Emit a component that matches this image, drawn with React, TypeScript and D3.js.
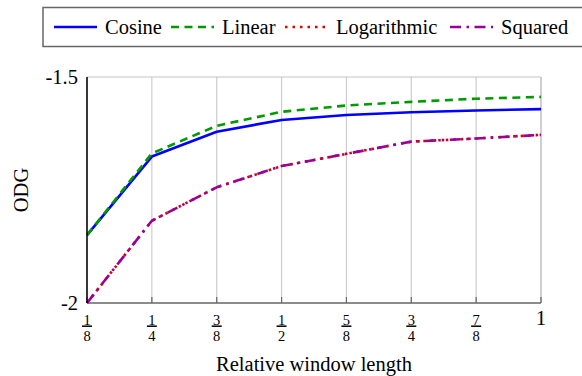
import React from "react";
import * as d3 from "d3";

// Relative window lengths (x positions) and their fractional tick labels
const windowLengths = [1 / 8, 1 / 4, 3 / 8, 1 / 2, 5 / 8, 3 / 4, 7 / 8, 1];
const tickNumerators = ["1", "1", "3", "1", "5", "3", "7", ""];
const tickDenominators = ["8", "4", "8", "2", "8", "4", "8", ""];
const tickWholes = ["", "", "", "", "", "", "", "1"];

// ODG per window shape
const cosine = [-1.85, -1.676, -1.621, -1.595, -1.584, -1.578, -1.574, -1.571];
const linear = [-1.85, -1.669, -1.608, -1.577, -1.563, -1.555, -1.548, -1.544];
const logarithmic = [-2.0, -1.818, -1.744, -1.697, -1.67, -1.643, -1.636, -1.628];
const squared = [-2.0, -1.818, -1.744, -1.697, -1.67, -1.643, -1.636, -1.628];

const yTicks = [-2, -1.5];
const yTickLabels = ["-2", "-1.5"];

const seriesNames = ["Cosine", "Linear", "Logarithmic", "Squared"];
const seriesData = [cosine, linear, logarithmic, squared];
const seriesColors = ["#0000ff", "#009900", "#dd0000", "#990099"];
const seriesDashes = ["none", "8 5.5", "2.5 5", "11 5.5 2.5 5.5"];

const FONT = '"Liberation Serif", "Times New Roman", Times, serif';
const txt = { fontFamily: FONT };

export default function App() {
  const W = 582;
  const H = 376;
  const left = 87;
  const right = 541;
  const top = 77;
  const bottom = 303;

  const x = d3.scaleLinear().domain([1 / 8, 1]).range([left, right]);
  const y = d3.scaleLinear().domain([-2, -1.5]).range([bottom, top]);

  const line = d3
    .line<number>()
    .x((_, i) => x(windowLengths[i]))
    .y((d) => y(d));

  // Legend layout: sample line, then label, entries placed one after another
  const legendY = 27;
  const sampleW = 43;
  const legendStarts = [54, 171, 285, 450];
  const legendTextX = legendStarts.map((s) => s + sampleW + 8);

  return (
    <svg
      width={W}
      height={H}
      style={{ position: "absolute", left: 0, top: 0, background: "#fff", fontFamily: FONT }}
    >
      <rect x={0} y={0} width={W} height={H} fill="#fff" />

      {/* vertical grid */}
      {windowLengths.map((v, i) => (
        <line
          key={"g" + i}
          x1={x(v)}
          x2={x(v)}
          y1={top}
          y2={bottom}
          stroke="#cccccc"
          strokeWidth={1.2}
        />
      ))}
      {/* top and right frame */}
      <line x1={left} x2={right} y1={top} y2={top} stroke="#c4c4c4" strokeWidth={1.2} />
      <line x1={right} x2={right} y1={top} y2={bottom} stroke="#c4c4c4" strokeWidth={1.2} />

      {/* bottom axis with inward ticks */}
      <line x1={left} x2={right} y1={bottom} y2={bottom} stroke="#666" strokeWidth={1.5} />
      {windowLengths.map((v, i) => (
        <line
          key={"t" + i}
          x1={x(v)}
          x2={x(v)}
          y1={bottom}
          y2={bottom - 6}
          stroke="#666"
          strokeWidth={1.2}
        />
      ))}

      {/* series */}
      {seriesData.map((d, k) => (
        <path
          key={"s" + k}
          d={line(d) || ""}
          fill="none"
          stroke={seriesColors[k]}
          strokeWidth={2.6}
          strokeDasharray={seriesDashes[k]}
          strokeLinejoin="round"
        />
      ))}

      {/* left axis */}
      <line x1={left} x2={left} y1={top} y2={bottom} stroke="#000" strokeWidth={1.5} />

      {/* y tick labels */}
      {yTicks.map((v, i) => (
        <text
          key={"yl" + i}
          x={left - 9}
          y={y(v) + 7}
          textAnchor="end"
          fontSize={20.5}
          fill="#000"
          style={txt}
        >
          {yTickLabels[i]}
        </text>
      ))}

      {/* x tick labels as stacked fractions */}
      {windowLengths.map((v, i) => {
        const cx = x(v);
        if (tickWholes[i]) {
          return (
            <text key={"xl" + i} x={cx} y={325} textAnchor="middle" fontSize={21} fill="#000" style={txt}>
              {tickWholes[i]}
            </text>
          );
        }
        return (
          <g key={"xl" + i}>
            <text x={cx} y={324.5} textAnchor="middle" fontSize={14.5} fill="#000" style={txt}>
              {tickNumerators[i]}
            </text>
            <line x1={cx - 5} x2={cx + 5} y1={326.2} y2={326.2} stroke="#000" strokeWidth={1.5} />
            <text x={cx} y={340.5} textAnchor="middle" fontSize={14.5} fill="#000" style={txt}>
              {tickDenominators[i]}
            </text>
          </g>
        );
      })}

      {/* axis titles */}
      <text x={(left + right) / 2} y={371} textAnchor="middle" fontSize={20.5} fill="#000" style={txt}>
        Relative window length
      </text>
      <text
        transform={`translate(28, ${(top + bottom) / 2}) rotate(-90)`}
        textAnchor="middle"
        fontSize={20.5}
        fill="#000"
        style={txt}
      >
        ODG
      </text>

      {/* legend */}
      <rect x={43} y={7.5} width={560} height={39} fill="#fff" stroke="#666" strokeWidth={1.5} />
      {seriesNames.map((name, k) => (
        <g key={"lg" + k}>
          <line
            x1={legendStarts[k]}
            x2={legendStarts[k] + sampleW}
            y1={legendY}
            y2={legendY}
            stroke={seriesColors[k]}
            strokeWidth={2.6}
            strokeDasharray={seriesDashes[k]}
          />
          <text x={legendTextX[k]} y={legendY + 7} fontSize={20.5} fill="#000" style={txt}>
            {name}
          </text>
        </g>
      ))}
    </svg>
  );
}
